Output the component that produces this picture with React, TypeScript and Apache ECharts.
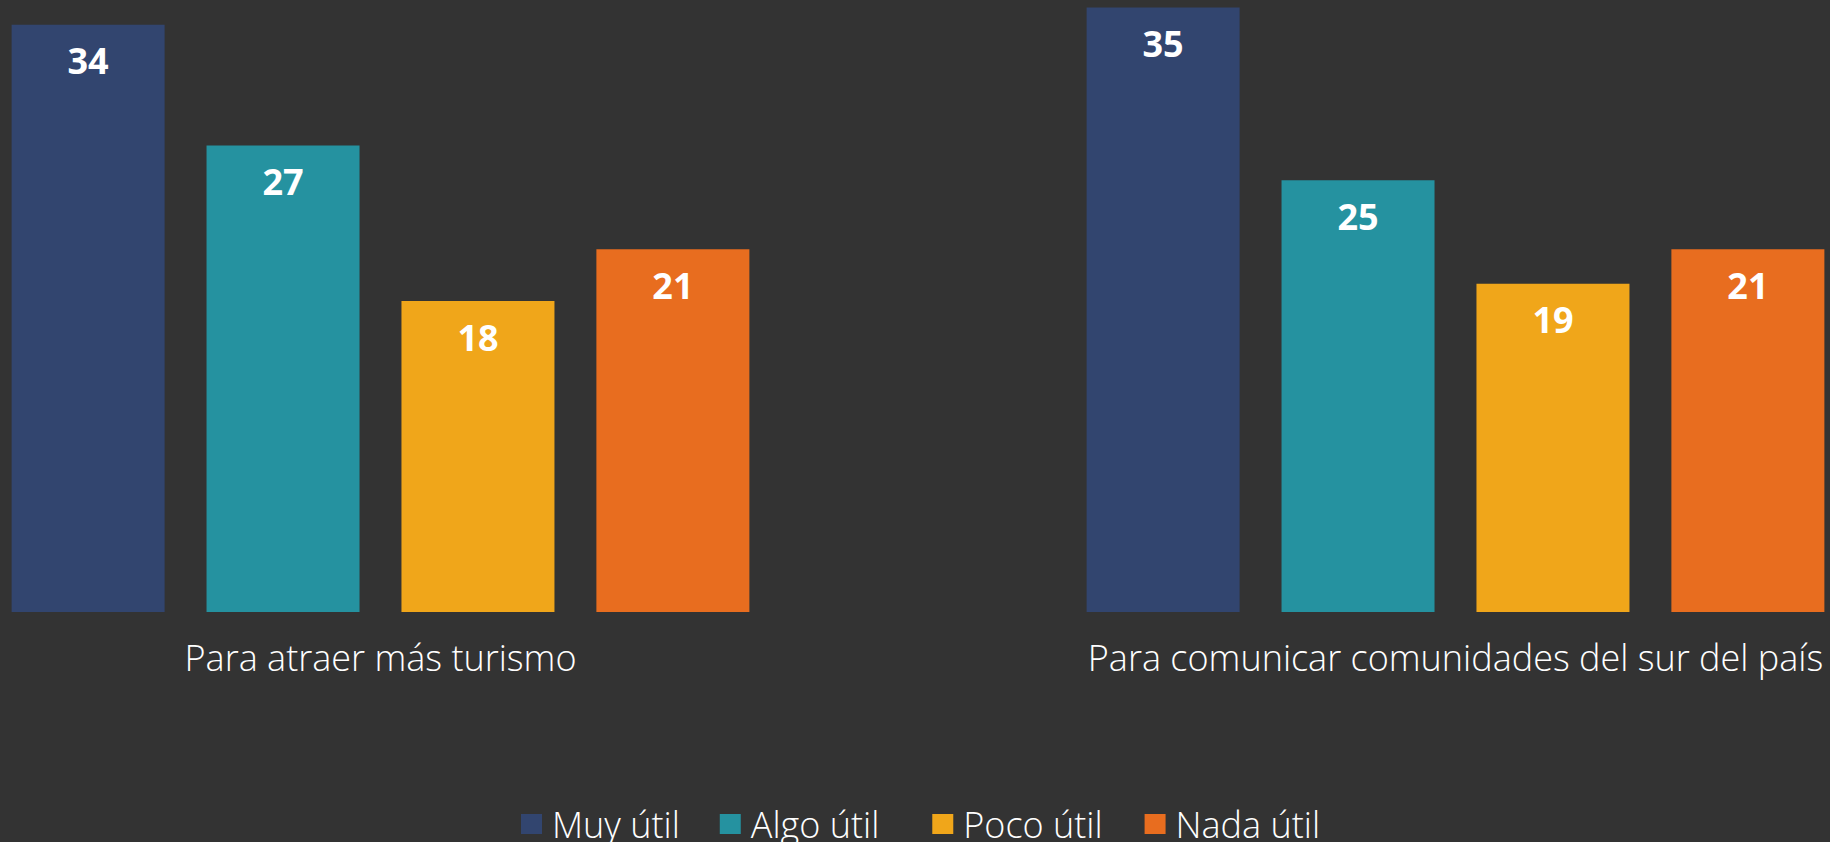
import React, { useEffect, useRef } from "react";
import * as echarts from "echarts";

const categories = ["Para atraer más turismo", "Para comunicar comunidades del sur del país"];
const seriesNames = ["Muy útil", "Algo útil", "Poco útil", "Nada útil"];
const muyUtil = [34, 35];
const algoUtil = [27, 25];
const pocoUtil = [18, 19];
const nadaUtil = [21, 21];
const colors = ["#32456F", "#2592A0", "#F0A61A", "#E86D1F"];
const legendExtraRight = [0, 13, 2, 0];

const FONT = "'Open Sans', 'Noto Sans', sans-serif";

export default function App() {
  const ref = useRef<HTMLDivElement>(null);
  useEffect(() => {
    if (!ref.current) return;
    const chart = echarts.init(ref.current, undefined, { renderer: "svg" });
    const values = [muyUtil, algoUtil, pocoUtil, nadaUtil];
    chart.setOption({
      animation: false,
      backgroundColor: "#333333",
      grid: {
        left: -157,
        right: -163,
        top: -79,
        bottom: 230,
        containLabel: false,
        outerBoundsMode: "none",
      },
      legend: {
        data: seriesNames.map((name, i) => ({ name, textStyle: { padding: [0, legendExtraRight[i], 0, 5] } })),
        left: 521,
        top: 806,
        padding: 0,
        itemWidth: 21,
        itemHeight: 20,
        itemGap: 40,
        icon: "rect",
        textStyle: { color: "#ffffff", fontSize: 36, fontWeight: 300, fontFamily: FONT, lineHeight: 34, padding: [0, 0, 0, 5] },
      },
      xAxis: {
        type: "category",
        data: categories,
        axisLine: { show: false },
        axisTick: { show: false },
        axisLabel: { color: "#ffffff", fontSize: 36, fontWeight: 300, fontFamily: FONT, margin: 27, interval: 0 },
      },
      yAxis: {
        type: "value",
        min: 0,
        max: 40,
        show: false,
        splitLine: { show: false },
      },
      series: seriesNames.map((name, i) => ({
        name,
        type: "bar",
        data: values[i],
        barWidth: 153,
        barGap: "27.4%",
        itemStyle: { color: colors[i] },
        label: {
          show: true,
          position: "insideTop",
          distance: 18,
          color: "#ffffff",
          fontSize: 36,
          fontWeight: "bold",
          fontFamily: FONT,
        },
      })),
    });
    return () => chart.dispose();
  }, []);
  return <div ref={ref} style={{ position: "fixed", left: 0, top: 0, width: 1830, height: 842 }} />;
}
